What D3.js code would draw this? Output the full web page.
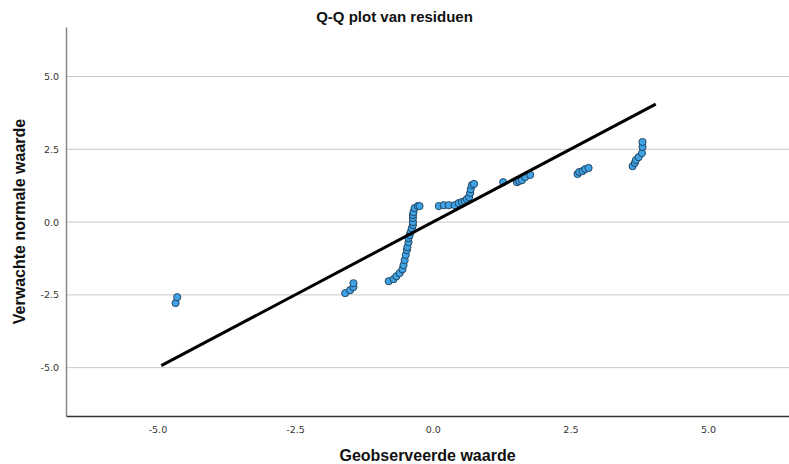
<!DOCTYPE html>
<meta charset="utf-8">
<style>
  body { margin: 0; background: #fff; }
  text { font-family: "Liberation Sans", Arial, sans-serif; }
</style>
<svg width="789" height="464"></svg>
<script src="https://cdn.jsdelivr.net/npm/d3@7"></script>
<script>

    // observed residual quantiles (x) vs expected normal values (y)
    var observed = [-4.67, -4.64, -1.59, -1.50, -1.44, -1.44,
        -0.80, -0.71, -0.66, -0.60, -0.55, -0.53, -0.51, -0.49, -0.47, -0.46, -0.44, -0.44,
        -0.42, -0.40, -0.38, -0.36, -0.36, -0.36, -0.36, -0.35, -0.33, -0.27, -0.24,
        0.11, 0.20, 0.29, 0.40, 0.47, 0.53, 0.58, 0.62, 0.66, 0.68, 0.69, 0.71, 0.75,
        1.28, 1.53, 1.57, 1.62, 1.68, 1.77,
        2.63, 2.66, 2.72, 2.77, 2.83,
        3.63, 3.67, 3.69, 3.74, 3.80, 3.81, 3.81];
    var expected = [-2.78, -2.58, -2.44, -2.34, -2.23, -2.10,
        -2.03, -1.96, -1.86, -1.75, -1.62, -1.48, -1.31, -1.13, -0.96, -0.86, -0.69, -0.55,
        -0.45, -0.34, -0.21, -0.10, 0.00, 0.14, 0.24, 0.34, 0.48, 0.55, 0.55,
        0.55, 0.58, 0.58, 0.58, 0.65, 0.69, 0.72, 0.79, 0.86, 1.00, 1.13, 1.27, 1.31,
        1.37, 1.37, 1.41, 1.44, 1.55, 1.62,
        1.65, 1.72, 1.75, 1.82, 1.86,
        1.92, 2.03, 2.13, 2.23, 2.37, 2.58, 2.75];
    var refLine = [-4.93, 4.05];
    var xTicks = [-5, -2.5, 0, 2.5, 5];
    var yTicks = [-5, -2.5, 0, 2.5, 5];

    var svg = d3.select("svg"),
        margin = {top: 27, left: 66, bottom: 48, right: 0},
        width = +svg.attr("width") - margin.left - margin.right,
        height = +svg.attr("height") - margin.top - margin.bottom;

    var x = d3.scaleLinear().domain([-6.66, 6.47]).range([0, width]);
    var y = d3.scaleLinear().domain([-6.66, 6.7]).range([height, 0]);

    var g = svg.append("g")
        .attr("transform", "translate(" + margin.left + "," + margin.top + ")");

    var fmt = d => d3.format(".1f")(d).replace("\u2212", "-");

    // gridlines
    g.append("g")
        .selectAll("line")
        .data(yTicks)
        .enter().append("line")
        .attr("x1", 0).attr("x2", width)
        .attr("y1", d => y(d)).attr("y2", d => y(d))
        .attr("stroke", "#c8c8c8").attr("stroke-width", 1);

    var xAxis = g.append("g")
        .attr("transform", "translate(0," + height + ")")
        .call(d3.axisBottom(x).tickValues(xTicks).tickFormat(fmt).tickSize(0).tickPadding(10));
    xAxis.select(".domain").attr("stroke", "#333").attr("stroke-width", 1.5);

    var yAxis = g.append("g")
        .call(d3.axisLeft(y).tickValues(yTicks).tickFormat(fmt).tickSize(0).tickPadding(7));
    yAxis.select(".domain").attr("stroke", "#888").attr("stroke-width", 1.5);

    svg.selectAll(".tick text")
        .attr("fill", "#333")
        .style("font-family", "'DejaVu Sans', sans-serif")
        .style("font-size", "9.5px");

    // points
    g.append("g")
        .selectAll("circle")
        .data(observed.map((d, i) => [d, expected[i]]))
        .enter().append("circle")
        .attr("cx", d => x(d[0]))
        .attr("cy", d => y(d[1]))
        .attr("r", 3.6)
        .attr("fill", "#3fa3e6")
        .attr("stroke", "#1d3b55")
        .attr("stroke-width", 0.9);

    // reference line (y = x)
    var line = d3.line().x(d => x(d)).y(d => y(d));
    g.append("path")
        .datum(refLine)
        .attr("d", line)
        .attr("fill", "none")
        .attr("stroke", "#000")
        .attr("stroke-width", 3);

    svg.append("text")
        .attr("x", 394.5).attr("y", 22)
        .attr("text-anchor", "middle")
        .attr("font-weight", "bold")
        .attr("font-size", "15px")
        .attr("fill", "#111")
        .text("Q-Q plot van residuen");

    svg.append("text")
        .attr("x", margin.left + width / 2).attr("y", 461)
        .attr("text-anchor", "middle")
        .attr("font-weight", "bold")
        .attr("font-size", "16px")
        .attr("fill", "#111")
        .text("Geobserveerde waarde");

    svg.append("text")
        .attr("transform", "translate(25," + (margin.top + height / 2) + ") rotate(-90)")
        .attr("text-anchor", "middle")
        .attr("font-weight", "bold")
        .attr("font-size", "16px")
        .attr("fill", "#111")
        .text("Verwachte normale waarde");

</script>
